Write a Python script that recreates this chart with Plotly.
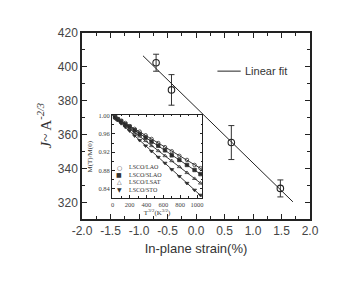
import numpy as np
import plotly.graph_objects as go

# ---- main data ----
strain = [-0.70, -0.43, 0.62, 1.48]
j_val = [402.5, 386.5, 355.5, 328.5]
j_err = [5, 9, 10, 5]
fit_span = [-0.93, 1.70]

x_tick_vals = [-2.0, -1.5, -1.0, -0.5, 0.0, 0.5, 1.0, 1.5, 2.0]
x_tick_text = [f"{v:.1f}" for v in x_tick_vals]
y_tick_vals = [320, 340, 360, 380, 400, 420]

# ---- inset data ----
t32 = [30, 60, 100, 150, 200, 260, 320, 390, 460, 540, 620, 700, 790, 880, 970, 1040]
m_lao = [0.996, 0.993, 0.989, 0.984, 0.977, 0.971, 0.965, 0.957, 0.949, 0.940, 0.931, 0.922, 0.912, 0.903, 0.892, 0.885]
m_slao = [0.997, 0.992, 0.988, 0.981, 0.976, 0.968, 0.960, 0.952, 0.943, 0.934, 0.924, 0.913, 0.903, 0.892, 0.881, 0.872]
m_lsat = [0.995, 0.991, 0.986, 0.979, 0.971, 0.963, 0.955, 0.945, 0.934, 0.923, 0.912, 0.901, 0.888, 0.875, 0.862, 0.852]
m_sto = [0.994, 0.990, 0.983, 0.975, 0.967, 0.956, 0.946, 0.934, 0.922, 0.909, 0.896, 0.882, 0.867, 0.852, 0.837, 0.826]
inset_fit_span = [0, 1055]
series_names = ["LSCO/LAO", "LSCO/SLAO", "LSCO/LSAT", "LSCO/STO"]
series_vals = [m_lao, m_slao, m_lsat, m_sto]
series_symbols = ["circle-open", "square", "triangle-up-open", "triangle-down"]
legend_glyphs = ["○", "■", "△", "▼"]

inset_x_ticks = [0, 200, 400, 600, 800, 1000]
inset_y_ticks = [0.84, 0.88, 0.92, 0.96, 1.00]

SANS = "Liberation Sans, Arial, sans-serif"
SERIF = "Liberation Serif, Times New Roman, serif"
INK = "#222"

fig = go.Figure()

# main data with error bars
fig.add_trace(go.Scatter(
    x=strain, y=j_val, mode="markers",
    marker=dict(symbol="circle-open", size=6.5, color=INK, line=dict(width=1.1)),
    error_y=dict(type="data", array=j_err, visible=True, color="#333", thickness=1, width=3),
    showlegend=False, xaxis="x", yaxis="y"))

# main linear fit
coef = np.polyfit(strain, j_val, 1)
fx = np.array(fit_span)
fig.add_trace(go.Scatter(
    x=fx, y=np.polyval(coef, fx), mode="lines",
    line=dict(color=INK, width=1), showlegend=False, xaxis="x", yaxis="y"))

# inset series and fits
ifx = np.array(inset_fit_span)
for name, vals, sym in zip(series_names, series_vals, series_symbols):
    fig.add_trace(go.Scatter(
        x=t32, y=vals, mode="markers", name=name,
        marker=dict(symbol=sym, size=3.5, color="#333", line=dict(width=0.8, color="#333")),
        showlegend=False, xaxis="x2", yaxis="y2"))
    c = np.polyfit(t32, vals, 1)
    fig.add_trace(go.Scatter(
        x=ifx, y=np.polyval(c, ifx), mode="lines",
        line=dict(color=INK, width=0.9), showlegend=False, xaxis="x2", yaxis="y2"))

axis_common = dict(showline=True, mirror="ticks", linecolor=INK, ticks="inside",
                   showgrid=False, zeroline=False, tickcolor=INK)

fig.update_layout(
    width=334, height=289,
    margin=dict(l=74, r=32, t=25, b=78),
    plot_bgcolor="white", paper_bgcolor="white",
    xaxis=dict(**axis_common, domain=[0, 1], range=[-2.0, 2.0], linewidth=1.5,
               tickvals=x_tick_vals, ticktext=x_tick_text, ticklen=5, tickwidth=1.2,
               minor=dict(ticks="inside", ticklen=3, tickmode="linear", tick0=-2.0, dtick=0.25, tickcolor=INK),
               tickfont=dict(family=SANS, size=12, color="#444"),
               title=dict(text="In-plane strain(%)", font=dict(family=SANS, size=13, color="#333"), standoff=7),
               anchor="y"),
    yaxis=dict(**axis_common, domain=[0, 1], range=[310.5, 420], linewidth=1.5,
               tickvals=y_tick_vals, ticklen=5, tickwidth=1.2,
               minor=dict(ticks="inside", ticklen=3, tickmode="linear", tick0=300, dtick=10, tickcolor=INK),
               tickfont=dict(family=SANS, size=12, color="#444"),
               anchor="x"),
    xaxis2=dict(**axis_common, domain=[0.132, 0.527], range=[-7, 1060], linewidth=1,
                tickvals=inset_x_ticks, ticklen=2.5, tickwidth=0.8,
                minor=dict(ticks="inside", ticklen=1.5, tickmode="linear", tick0=0, dtick=100, tickcolor=INK),
                tickfont=dict(family=SERIF, size=6.5, color="#444"),
                title=dict(text="T<sup>3/2</sup>(K<sup>3/2</sup>)", font=dict(family=SERIF, size=7, color="#333"), standoff=1),
                anchor="y2"),
    yaxis2=dict(**axis_common, domain=[0.113, 0.561], range=[0.8196, 1.0022], linewidth=1,
                tickvals=inset_y_ticks, tickformat=".2f", ticklen=2.5, tickwidth=0.8,
                minor=dict(ticks="inside", ticklen=1.5, tickmode="linear", tick0=0.8, dtick=0.02, tickcolor=INK),
                tickfont=dict(family=SERIF, size=6.5, color="#444"),
                anchor="x2"),
)

# main y title
fig.add_annotation(text="<i>J</i>~ A<sup><i>-2/3</i></sup>", xref="paper", yref="paper",
                   x=-0.165, y=0.5, xanchor="center", yanchor="middle", textangle=-90,
                   showarrow=False, font=dict(family=SERIF, size=15, color="#333"))
# inset y title
fig.add_annotation(text="M(T)/M(0)", xref="paper", yref="paper",
                   x=0.036, y=0.337, xanchor="center", yanchor="middle", textangle=-90,
                   showarrow=False, font=dict(family=SERIF, size=7, color="#333"))

# main legend: "Linear fit"
fig.add_shape(type="line", xref="paper", yref="paper", x0=0.594, x1=0.696, y0=0.795, y1=0.795,
              line=dict(color=INK, width=1))
fig.add_annotation(text="Linear fit", xref="paper", yref="paper", x=0.707, y=0.795,
                   xanchor="left", yanchor="middle", showarrow=False,
                   font=dict(family=SANS, size=11, color="#333"))

# inset legend
leg_y = [0.277, 0.238, 0.199, 0.158]
for g, name, yy in zip(legend_glyphs, series_names, leg_y):
    fig.add_annotation(text=g, xref="paper", yref="paper", x=0.164, y=yy,
                       xanchor="center", yanchor="middle", showarrow=False,
                       font=dict(family="DejaVu Sans", size=6, color="#333"))
    fig.add_annotation(text=name, xref="paper", yref="paper", x=0.199, y=yy,
                       xanchor="left", yanchor="middle", showarrow=False,
                       font=dict(family=SERIF, size=6, color="#333"))

fig.write_html("out.html")
